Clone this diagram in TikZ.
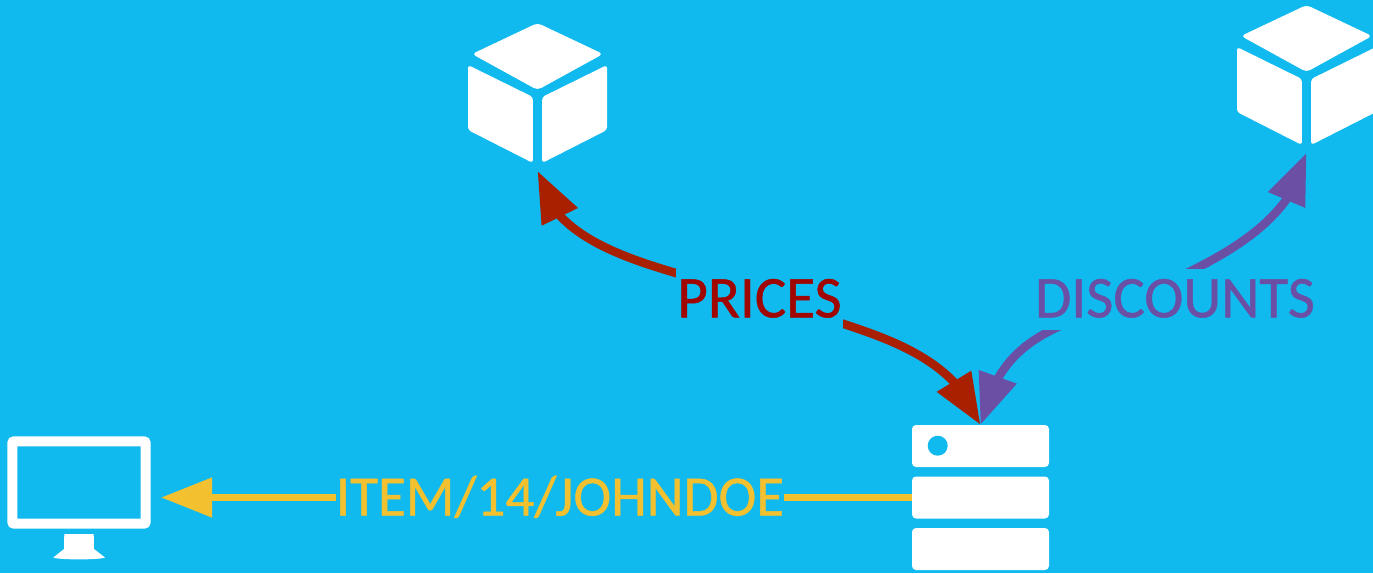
\documentclass[tikz,border=0pt]{standalone}
\usepackage{fontspec}
\newfontfamily\tagfont[FakeBold=0.8]{Carlito}
\usetikzlibrary{arrows.meta, bending, backgrounds}

\definecolor{skyback}{HTML}{10B9EE}
\definecolor{priceline}{HTML}{A82000}
\definecolor{pricetext}{HTML}{A00500}
\definecolor{discountline}{HTML}{6B4FA5}
\definecolor{itemline}{HTML}{F3C12F}

\tikzset{
    cube/.pic = {
            \fill[white, rounded corners = 4pt] (0,-70) -- (65.5,-39) -- (0,-3) -- (-65.5,-39) -- cycle;
            \fill[white, rounded corners = 3pt] (-4.6,4) -- (-4.6,70) -- (-69.5,37) -- (-69.5,-28) -- cycle;
            \fill[white, rounded corners = 3pt] (4.6,4) -- (4.6,70) -- (69.5,37) -- (69.5,-28) -- cycle;
            \coordinate (-tip) at (0,78);
        }
}

\begin{document}
\begin{tikzpicture}[
        x = 1pt,
        y = -1pt,
        tagtext/.style = {
                fill = skyback,
                inner xsep = 1.5pt,
                inner ysep = 0pt,
                minimum height = 61.5pt,
                font = \tagfont\fontsize{59}{59}\selectfont,
                text height = 37pt,
                text depth = 1pt
            },
        rack/.style = {
                fill = white,
                rounded corners = 4pt,
                minimum width = 137pt,
                minimum height = 42pt,
                inner sep = 0pt
            },
        link/.style = {
                line width = 8.5pt,
                -{Triangle[length = 51pt, width = 38pt]}
            }
    ]

    \useasboundingbox (0,0) rectangle (1373,573);

    \pic (cubePrices) at (537.5,93) {cube};
    \pic (cubeDiscounts) at (1306.5,75) {cube};

    \node[rack] (rackTop) at (980.5,446) {};
    \node[rack] (rackMid) at (980.5,497.5) {};
    \node[rack] (rackBot) at (980.5,549) {};
    \fill[skyback] (937.7,445.7) circle (10);

    % screen and its foot
    \node[draw = white, line width = 10pt, rounded corners = 2pt, minimum width = 133.4pt, minimum height = 82.4pt, inner sep = 0pt] (screen) at (79,482.5) {};
    \fill[white] (64.3,534) -- (93.7,534) -- (94,549) -- (105,557.5) .. controls (100,560) and (58,560) .. (53.3,557.5) -- (64,549) -- cycle;

    \node[tagtext, text = pricetext, minimum width = 167pt] (tagPrices) at (759.5,299.3) {PRICES};
    \node[tagtext, text = discountline] (tagDiscounts) at (1175,299.3) {DISCOUNTS};
    \node[tagtext, text = itemline, minimum height = 40pt, inner xsep = 0pt, font = \tagfont\fontsize{57}{57}\selectfont] (tagItem) at (560,497.5) {ITEM/14/JOHNDOE};

    \begin{scope}[on background layer]
        \fill[skyback] (0,0) rectangle (1373,573);
        \draw[link, priceline] (tagPrices.north west) ++(8,7) .. controls (625,258) and (548,235) .. (cubePrices-tip);
        \draw[link, priceline] (tagPrices.south east) ++(-8,-9) .. controls (893,340) and (958,362) .. (rackTop.north);
        \draw[link, discountline] (tagDiscounts.south west) ++(28,-5) .. controls (1030,340) and (995,360) .. (rackTop.north);
        \draw[link, discountline] (tagDiscounts.north) ++(5,8) .. controls (1235,250) and (1295,215) .. (cubeDiscounts-tip);
        \draw[link, itemline, line width = 7.5pt, shorten > = 10.3pt] (rackMid.west) -- (rackMid.west -| screen.east);
    \end{scope}

\end{tikzpicture}
\end{document}
